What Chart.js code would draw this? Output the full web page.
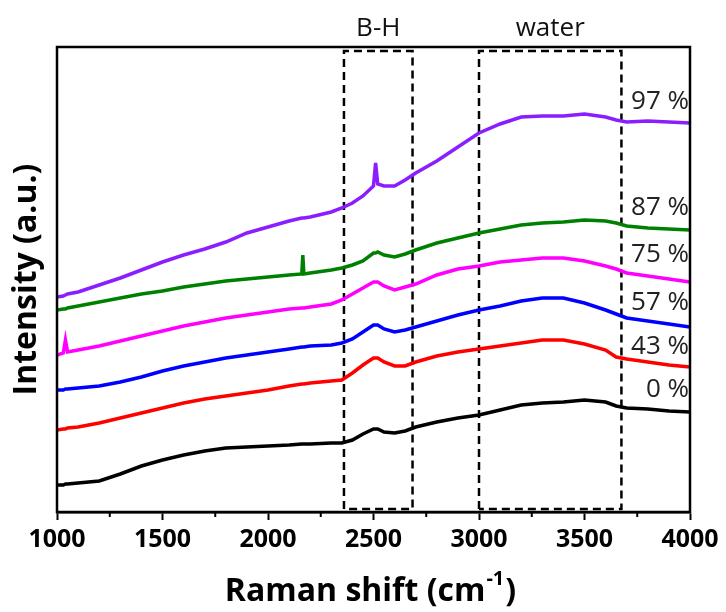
<!DOCTYPE html>
<html>
<head>
<meta charset="utf-8">
<script src="https://cdn.jsdelivr.net/npm/chart.js@4.4.1/dist/chart.umd.min.js"></script>
<style>
  body { margin: 0; background: #fff; }
</style>
</head>
<body>
<canvas id="raman" width="726" height="612"></canvas>
<script>
// raman shift (cm-1), shared by all spectra
const shift = [1000,1030,1040,1050,1100,1200,1300,1400,1500,1600,1700,1800,1900,2000,2100,2160,2165,2170,2200,2300,2350,2400,2450,2500,2510,2520,2550,2600,2650,2700,2800,2900,3000,3100,3200,3300,3400,3500,3600,3650,3700,3800,3900,4000];

// intensities (a.u., stacked offsets as in the figure)
const rh97 = [215,216,217,218,220,227,234,242,250,257,263,270,279,285,291,294,294,294,295,300,304,309,316,326,349,328,326,326,332,339,351,365,379,388,395,396,396,398,395,392,390,391,390,389];
const rh87 = [202,203,203,204,206,210,214,218,221,225,228,231,233,235,237,238,257,238,239,242,244,247,251,259,259,260,257,255,258,262,269,274,279,283,287,289,290,292,291,289,286,284,283,282];
const rh75 = [157,159,172,160,162,166,171,176,181,186,190,194,197,200,203,204,204,204,205,208,212,218,224,230,230,230,226,222,225,228,237,243,246,250,252,254,254,251,246,243,239,236,233,230];
const rh57 = [122,122,123,123,124,126,130,135,141,146,150,154,157,160,163,165,165,165,166,167,169,173,180,187,187,187,183,180,182,185,191,197,202,206,211,214,214,209,202,198,194,191,188,185];
const rh43 = [82,83,83,84,85,89,94,99,104,109,113,116,119,122,126,128,128,128,129,131,132,139,147,154,154,154,150,146,146,150,156,160,163,166,169,172,172,168,162,155,153,150,147,145];
const rh0  = [27,27,28,28,29,31,38,46,52,57,61,64,65,66,67,68,68,68,68,69,69,72,78,83,83,83,80,79,81,85,90,94,97,102,107,109,110,112,110,106,104,103,101,100];

const seriesNames = ['97 %','87 %','75 %','57 %','43 %','0 %'];
const seriesData = [rh97, rh87, rh75, rh57, rh43, rh0];
const seriesColors = ['#8a1eff','#008000','#ff00ff','#0000ff','#ff0000','#000000'];
const labelLevel = [410, 304, 257, 209, 165, 122]; // where the % labels sit

// dashed regions
const regionNames = ['B-H','water'];
const regionFrom = [2360, 3000];
const regionTo = [2685, 3675];
const regionLow = 3, regionHigh = 461;

const minorTicks = [1250,1750,2250,2750,3250,3750];

const FONT = "'Open Sans', 'DejaVu Sans', sans-serif";

const datasets = seriesData.map((arr, i) => ({
  label: seriesNames[i],
  data: shift.map((s, k) => ({x: s, y: arr[k]})),
  borderColor: seriesColors[i],
  backgroundColor: seriesColors[i],
  borderWidth: 3.5,
  pointRadius: 0,
  fill: false,
  tension: 0
}));

regionNames.forEach((n, i) => {
  datasets.push({
    label: n,
    data: [
      {x: regionFrom[i], y: regionLow}, {x: regionFrom[i], y: regionHigh},
      {x: regionTo[i], y: regionHigh}, {x: regionTo[i], y: regionLow},
      {x: regionFrom[i], y: regionLow}
    ],
    borderColor: '#000',
    borderWidth: 2.5,
    borderDash: [8, 5],
    pointRadius: 0,
    fill: false,
    tension: 0
  });
});

// frame, minor ticks and the text annotations
const decor = {
  id: 'decor',
  afterDatasetsDraw(chart) {
    const ctx = chart.ctx, a = chart.chartArea;
    const xs = chart.scales.x, ys = chart.scales.y;
    ctx.save();
    ctx.strokeStyle = '#000';
    ctx.lineWidth = 2.5;
    ctx.strokeRect(a.left, a.top, a.right - a.left, a.bottom - a.top);

    ctx.lineWidth = 2;
    minorTicks.forEach(v => {
      const px = xs.getPixelForValue(v);
      ctx.beginPath();
      ctx.moveTo(px, a.bottom);
      ctx.lineTo(px, a.bottom + 5);
      ctx.stroke();
    });

    ctx.fillStyle = '#111';
    ctx.font = '26px ' + FONT;
    ctx.textAlign = 'center';
    ctx.textBaseline = 'middle';
    regionNames.forEach((n, i) => {
      const px = xs.getPixelForValue((regionFrom[i] + regionTo[i]) / 2);
      ctx.fillText(n, px, a.top - 18);
    });

    ctx.font = '26px ' + FONT;
    ctx.fillStyle = '#222';
    ctx.textAlign = 'right';
    seriesNames.forEach((n, i) => {
      ctx.fillText(n, a.right - 1, ys.getPixelForValue(labelLevel[i]));
    });

    // x title with superscript -1
    const big = 'bold 32px ' + FONT, small = 'bold 20px ' + FONT;
    const p1 = 'Raman shift (cm', p2 = '-1', p3 = ')';
    ctx.font = big; const w1 = ctx.measureText(p1).width, w3 = ctx.measureText(p3).width;
    ctx.font = small; const w2 = ctx.measureText(p2).width;
    let x0 = (a.left + a.right) / 2 - 4 - (w1 + w2 + w3) / 2;
    const yT = 590;
    ctx.fillStyle = '#000';
    ctx.textAlign = 'left';
    ctx.textBaseline = 'alphabetic';
    ctx.font = big; ctx.fillText(p1, x0, yT + 11);
    ctx.font = small; ctx.fillText(p2, x0 + w1 + 1, yT - 5);
    ctx.font = big; ctx.fillText(p3, x0 + w1 + w2 + 2, yT + 11);
    ctx.restore();
  }
};

new Chart(document.getElementById('raman'), {
  type: 'line',
  data: { datasets },
  options: {
    responsive: false,
    devicePixelRatio: 1,
    animation: false,
    layout: { padding: { top: 47, right: 36, left: 0, bottom: 0 } },
    plugins: { legend: { display: false }, tooltip: { enabled: false } },
    scales: {
      x: {
        type: 'linear',
        min: 1000, max: 4000,
        ticks: {
          stepSize: 500,
          color: '#000',
          padding: 5,
          font: { family: FONT, size: 25, weight: 'bold' },
          callback: v => String(v)
        },
        grid: { drawOnChartArea: false, drawTicks: true, tickLength: 8, tickWidth: 2, tickColor: '#000' },
        border: { display: true, color: '#000', width: 2.5 },
        title: { display: false },
        afterFit(scale) { scale.height = 100; }
      },
      y: {
        min: 0, max: 465,
        ticks: { display: false },
        grid: { display: false },
        border: { display: false },
        title: {
          display: true,
          text: 'Intensity (a.u.)',
          color: '#000',
          font: { family: FONT, size: 32, weight: 'bold' },
          padding: { top: 8, bottom: 0 }
        },
        afterFit(scale) { scale.width = 57; }
      }
    }
  },
  plugins: [decor]
});
</script>
</body>
</html>
